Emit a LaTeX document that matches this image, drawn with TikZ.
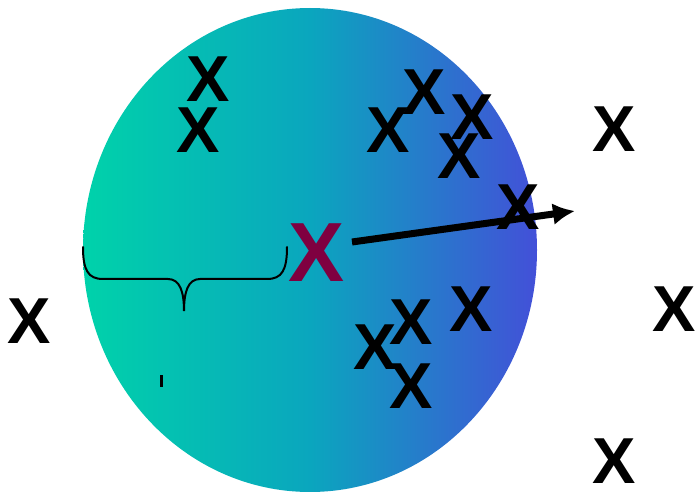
\documentclass[tikz,border=0pt]{standalone}
\usepackage{fontspec}
\setmainfont{Liberation Sans}
\usetikzlibrary{arrows.meta}
\definecolor{gl}{HTML}{00D2AA}
\definecolor{gm}{HTML}{0AA6BE}
\definecolor{gr}{HTML}{4350D8}
\definecolor{maroonx}{HTML}{7F0040}
\pgfdeclarehorizontalshading{ballshade}{100bp}{color(0bp)=(gl); color(25bp)=(gl); color(50bp)=(gm); color(75bp)=(gr); color(100bp)=(gr)}
\tikzset{
  xmark/.style={inner sep=0pt, font=\fontsize{65}{65}\selectfont\bfseries, text=black},
  bigx/.style={inner sep=0pt, font=\fontsize{84}{84}\selectfont\bfseries, text=maroonx},
  bracepath/.style={line width=2pt, black, line cap=round},
  arrowline/.style={line width=7pt, -{Latex[length=22pt,width=22pt]}}
}
\begin{document}
\begin{tikzpicture}[x=1pt,y=-1pt]
\useasboundingbox (0,0) rectangle (697,492);
\shade[shading=ballshade] (310,250) ellipse [x radius=227, y radius=242];
% brace
\draw[bracepath] (83,247) .. controls (83,270) and (88,279) .. (103,279) -- (168,279)
  .. controls (180,279) and (184,292) .. (184,311)
  .. controls (184,292) and (188,279) .. (200,279) -- (267,279)
  .. controls (282,279) and (287,270) .. (287,247);
\draw[line width=2.5pt] (161.5,375) -- (161.5,387);
% X marks
\node[xmark] (x1) at (208,79) {X};
\node[xmark] (x2) at (198,130) {X};
\node[xmark] (x3) at (388,130) {X};
\node[xmark] (x4) at (424,92) {X};
\node[xmark] (x5) at (472,117) {X};
\node[xmark] (x6) at (459,156) {X};
\node[xmark] (x7) at (518,207) {X};
\node[xmark] (x8) at (614.5,129.5) {X};
\node[xmark] (x9) at (29,321.5) {X};
\node[xmark] (x10) at (411,322) {X};
\node[xmark] (x11) at (471,309) {X};
\node[xmark] (x12) at (375,347) {X};
\node[xmark] (x13) at (411,386) {X};
\node[xmark] (x14) at (674,309) {X};
\node[xmark] (x15) at (614.5,461.5) {X};
\node[bigx] (c) at (317,253) {X};
\coordinate (as) at (352,242);
\coordinate (ae) at (575,211);
\draw[arrowline] (as) -- (ae);
\end{tikzpicture}
\end{document}
